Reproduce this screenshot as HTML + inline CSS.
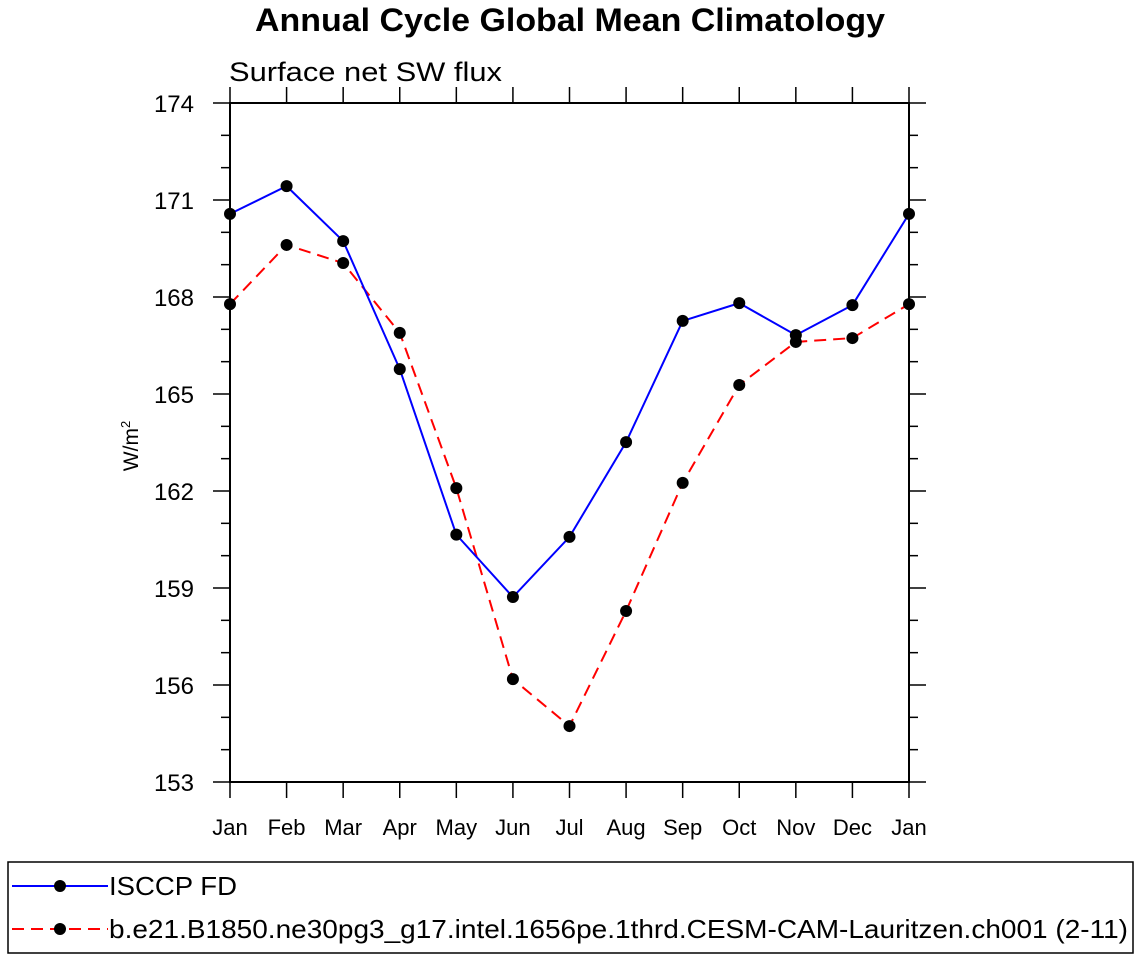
<!DOCTYPE html>
<html><head><meta charset="utf-8"><style>
body{margin:0;background:#fff;width:1138px;height:958px;overflow:hidden}
svg text{font-family:"Liberation Sans",Helvetica,Arial,sans-serif}
</style></head><body>
<svg id="chart" width="1138" height="958">
<text x="255" y="31" font-size="32" font-weight="bold" textLength="630" lengthAdjust="spacingAndGlyphs">Annual Cycle Global Mean Climatology</text>
<text x="229" y="81" font-size="27" textLength="273" lengthAdjust="spacingAndGlyphs">Surface net SW flux</text>
<text transform="translate(138,446) rotate(-90)" text-anchor="middle" font-size="21">W/m<tspan dy="-8" font-size="13">2</tspan></text>
<g id="axes"></g>
<g id="series"></g>
<rect x="8" y="862" width="1125" height="91" fill="none" stroke="#000" stroke-width="1.5"/>
<g>
<line x1="12" y1="886" x2="108" y2="886" stroke="#0000ff" stroke-width="2"/>
<circle cx="60" cy="886" r="6" fill="#000"/>
<text x="109" y="895" font-size="26" textLength="128" lengthAdjust="spacingAndGlyphs">ISCCP FD</text></g>
<g>
<line x1="12" y1="929" x2="108" y2="929" stroke="#ff0000" stroke-width="2" stroke-dasharray="12,7"/>
<circle cx="60" cy="929" r="6" fill="#000"/>
<text x="109" y="938" font-size="26" textLength="1019" lengthAdjust="spacingAndGlyphs">b.e21.B1850.ne30pg3_g17.intel.1656pe.1thrd.CESM-CAM-Lauritzen.ch001 (2-11)</text></g>
</svg>
<script>
const months=["Jan","Feb","Mar","Apr","May","Jun","Jul","Aug","Sep","Oct","Nov","Dec","Jan"];
const isccp=[170.57,171.43,169.73,165.77,160.65,158.72,160.58,163.51,167.26,167.81,166.82,167.75,170.57];
const model=[167.78,169.61,169.05,166.89,162.09,156.18,154.73,158.29,162.25,165.28,166.61,166.73,167.78];
const yTicks=[153,156,159,162,165,168,171,174];
const NS="http://www.w3.org/2000/svg";
const L=230,R=909,T=103,B=782,ymin=153,ymax=174;
const xs=i=>L+(R-L)*i/(months.length-1);
const ys=v=>B-(B-T)*(v-ymin)/(ymax-ymin);
function mk(p,tag,a){const e=document.createElementNS(NS,tag);for(const k in a)e.setAttribute(k,a[k]);p.appendChild(e);return e;}
const ax=document.getElementById('axes');
const fr=mk(ax,'rect',{x:L,y:T,width:R-L,height:B-T,fill:'none',stroke:'#000','stroke-width':2});


for(let v=ymin;v<=ymax;v++){
  const y=ys(v),maj=(v-ymin)%3===0,len=maj?17:9;
  mk(ax,'line',{x1:L-len,y1:y,x2:L,y2:y,stroke:'#000','stroke-width':1.5});
  mk(ax,'line',{x1:R,y1:y,x2:R+len,y2:y,stroke:'#000','stroke-width':1.5});
}
yTicks.forEach(v=>{
  const t=mk(ax,'text',{x:194,y:ys(v)+9,'text-anchor':'end','font-size':24});
  t.textContent=v;
  
  
});
months.forEach((m,i)=>{
  const x=xs(i);
  mk(ax,'line',{x1:x,y1:B,x2:x,y2:B+16,stroke:'#000','stroke-width':1.5});
  mk(ax,'line',{x1:x,y1:T-16,x2:x,y2:T,stroke:'#000','stroke-width':1.5});
  const t=mk(ax,'text',{x:x,y:835,'text-anchor':'middle','font-size':22});
  t.textContent=m;
  
  
});
const sg=document.getElementById('series');
function draw(data,color,dash,name){
  const pl=mk(sg,'polyline',{points:data.map((v,i)=>xs(i)+','+ys(v)).join(' '),fill:'none',stroke:color,'stroke-width':2,'stroke-dasharray':dash});
  
  
  data.forEach((v,i)=>{
    const c=mk(sg,'circle',{cx:xs(i),cy:ys(v),r:6,fill:'#000'});
    
    
  });
}
draw(model,'#ff0000','12,7','model');
draw(isccp,'#0000ff','none','isccp');
</script>
</body></html>
